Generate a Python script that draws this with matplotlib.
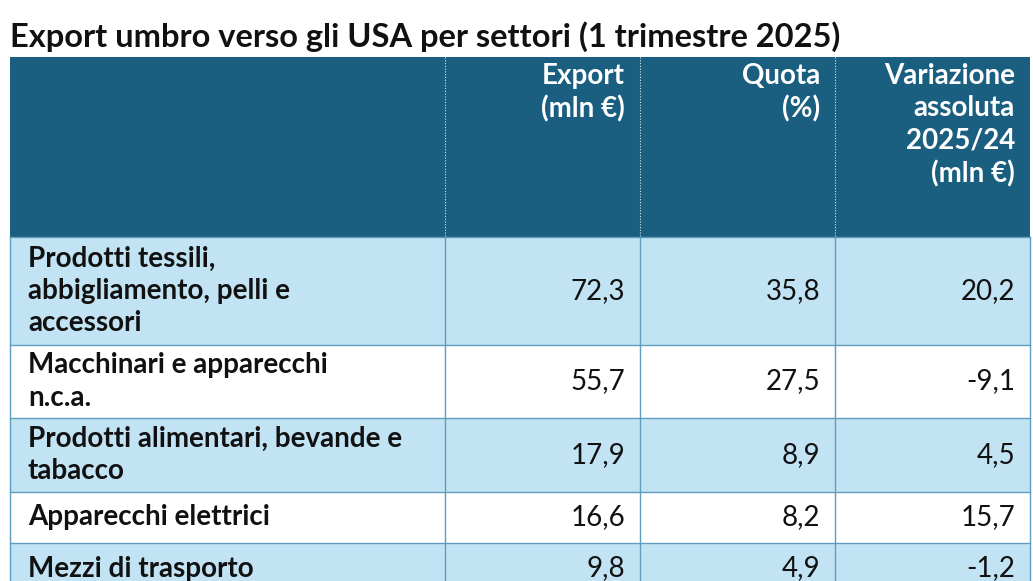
import matplotlib
matplotlib.use("Agg")
import matplotlib.pyplot as plt
from matplotlib.patches import Rectangle

title = "Export umbro verso gli USA per settori (1 trimestre 2025)"
headers = ["Export\n(mln €)", "Quota\n(%)", "Variazione\nassoluta\n2025/24\n(mln €)"]
sectors = ["Prodotti tessili,\nabbigliamento, pelli e\naccessori",
           "Macchinari e apparecchi\nn.c.a.",
           "Prodotti alimentari, bevande e\ntabacco",
           "Apparecchi elettrici",
           "Mezzi di trasporto"]
export = ["72,3", "55,7", "17,9", "16,6", "9,8"]
quota = ["35,8", "27,5", "8,9", "8,2", "4,9"]
variazione = ["20,2", "-9,1", "4,5", "15,7", "-1,2"]

W, H = 1033, 581
fig = plt.figure(figsize=(W/100, H/100), dpi=100)
ax = fig.add_axes([0, 0, 1, 1])
ax.set_xlim(0, W); ax.set_ylim(H, 0); ax.axis("off")

FONT = "Lato"
hdr_col = "#1a5e80"; light = "#c2e3f3"; grid = "#5f9dbd"; txt = "#111111"
colx = [10, 445, 640, 835, 1030]
rows_y = [237, 345, 418, 492, 543, 594]

ax.text(10, 37, title, fontsize=23.5, fontweight="bold", family=FONT, va="center", ha="left", color=txt)

ax.add_patch(Rectangle((10, 57), 1020, 180, color=hdr_col, lw=0))
for x in colx[1:4]:
    ax.plot([x, x], [57, 237], color="#d8e8f0", lw=0.8, ls=(0, (1, 1.5)))
for i, h in enumerate(headers):
    ax.text(colx[i+2]-15, 63, h, fontsize=20, fontweight="bold", family=FONT, color="white",
            ha="right", va="top", linespacing=1.3)

for r, name in enumerate(sectors):
    y0, y1 = rows_y[r], rows_y[r+1]
    ax.add_patch(Rectangle((10, y0), 1020, y1-y0, color=(light if r % 2 == 0 else "white"), lw=0))
    yc = (y0+y1)/2
    ax.text(28, yc, name, fontsize=20, fontweight="bold", family=FONT, color=txt, ha="left", va="center", linespacing=1.3)
    for c, v in enumerate([export[r], quota[r], variazione[r]]):
        ax.text(colx[c+2]-15, yc, v, fontsize=20, family=FONT, color=txt, ha="right", va="center")
    ax.plot([10, 1030], [y0, y0], color=grid, lw=1)
for x in colx:
    ax.plot([x, x], [237, H], color=grid, lw=1)

fig.savefig("out.png", dpi=100)
